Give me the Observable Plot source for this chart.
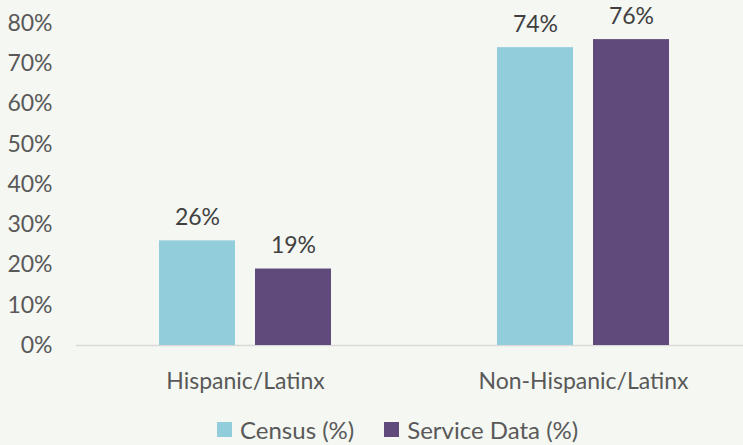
<!DOCTYPE html>
<html>
<head>
<meta charset="utf-8">
<script src="https://cdn.jsdelivr.net/npm/d3@7"></script>
<script src="https://cdn.jsdelivr.net/npm/@observablehq/plot@0.6"></script>
<style>
  html, body { margin: 0; padding: 0; background: #F5F7F2; }
  #wrap { position: relative; width: 743px; height: 445px; overflow: hidden; background: #F5F7F2; font-family: Lato, sans-serif; }
  #chart { position: absolute; left: 0; top: 0; width: 752px; }
  #chart svg { max-width: none !important; }
  #legend { position: absolute; left: 217px; top: 417px; height: 24px; display: flex; align-items: center; font-size: 24px; color: #595959; white-space: nowrap; }
  .item { display: flex; align-items: center; margin-right: 30px; }
  .sw { width: 15px; height: 15px; margin-right: 8px; }
</style>
</head>
<body>
<div id="wrap">
  <div id="chart"></div>
  <div id="legend"></div>
</div>
<script>
const groups = ["Hispanic/Latinx", "Non-Hispanic/Latinx"];
const seriesNames = ["Census (%)", "Service Data (%)"];
const censusValues = [26, 74];
const serviceValues = [19, 76];
const seriesColors = ["#92CDDC", "#604A7B"];
const yTicks = [0, 10, 20, 30, 40, 50, 60, 70, 80];

const data = groups.flatMap((g, i) => [
  {group: g, series: seriesNames[0], value: censusValues[i]},
  {group: g, series: seriesNames[1], value: serviceValues[i]}
]);

const chart = Plot.plot({
  width: 752,
  height: 400,
  marginLeft: 76,
  marginRight: 0,
  marginTop: 23,
  marginBottom: 55,
  style: {background: "transparent", fontFamily: "Lato, sans-serif", fontSize: "23px", color: "#595959", overflow: "visible", maxWidth: "none"},
  fx: {domain: groups, padding: 0, label: null, axis: "bottom", tickSize: 0, tickPadding: 27},
  x: {domain: seriesNames, paddingInner: 0.2083, paddingOuter: 0.8646, round: false, axis: null},
  y: {domain: [0, 80], ticks: yTicks, tickFormat: d => d + "%", tickSize: 0, tickPadding: 24, label: null},
  color: {domain: seriesNames, range: seriesColors},
  marks: [
    Plot.ruleY([0], {stroke: "#D9D9D9", strokeWidth: 1.5}),
    Plot.barY(data, {fx: "group", x: "series", y: "value", fill: "series"}),
    Plot.text(data, {fx: "group", x: "series", y: "value", text: d => d.value + "%", dy: -23, fill: "#404040", fontSize: 23})
  ]
});
chart.style.maxWidth = "none";
document.getElementById("chart").appendChild(chart);

const legend = document.getElementById("legend");
seriesNames.forEach((name, i) => {
  const item = document.createElement("div");
  item.className = "item";
  const sw = document.createElement("div");
  sw.className = "sw";
  sw.style.background = seriesColors[i];
  const label = document.createElement("span");
  label.textContent = name;
  item.appendChild(sw);
  item.appendChild(label);
  legend.appendChild(item);
});
</script>
</body>
</html>
